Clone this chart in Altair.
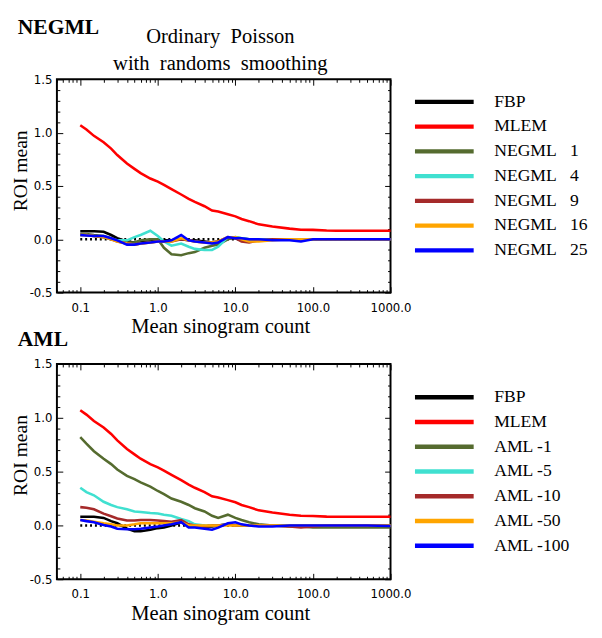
import altair as alt
import pandas as pd

# ---------------- data ----------------
counts = [0.1, 0.12, 0.15, 0.2, 0.25, 0.3, 0.4, 0.5, 0.6, 0.8, 1.0,
          1.2, 1.5, 2.0, 2.5, 3.0, 4.0, 5.0, 6.0, 8.0, 10.0,
          12.0, 15.0, 20.0, 30.0, 50.0, 70.0, 100.0, 150.0, 200.0, 300.0, 500.0, 1000.0]

mlem = [1.07, 1.03, 0.97, 0.91, 0.85, 0.79, 0.71, 0.66, 0.62, 0.57, 0.54,
        0.51, 0.47, 0.42, 0.38, 0.35, 0.31, 0.27, 0.26, 0.235, 0.215,
        0.19, 0.17, 0.14, 0.12, 0.10, 0.09, 0.088, 0.082, 0.08, 0.08, 0.08, 0.08]

# top panel (NEGML)
fbp_top = [0.075, 0.075, 0.075, 0.07, 0.04, 0.01, -0.02, -0.03, -0.02, -0.02, -0.01,
           -0.01, -0.01, 0.0, -0.01, -0.01, -0.02, -0.03, -0.02, 0.01, 0.01,
           0.0, -0.01, 0.0, 0.0, 0.0, 0.0, 0.0, 0.0, 0.0, 0.0, 0.0, 0.0]
negml_1 = [0.05, 0.05, 0.04, 0.03, 0.01, -0.01, -0.03, -0.03, -0.01, 0.0, 0.0,
           -0.08, -0.14, -0.15, -0.13, -0.12, -0.08, -0.06, -0.05, 0.0, 0.02,
           0.01, 0.0, 0.0, 0.0, 0.0, 0.0, 0.0, 0.0, 0.0, 0.0, 0.0, 0.0]
negml_4 = [0.04, 0.04, 0.03, 0.02, 0.0, -0.01, -0.01, 0.02, 0.04, 0.08, 0.03,
           -0.02, -0.06, -0.04, -0.07, -0.09, -0.10, -0.10, -0.07, 0.02, 0.02,
           0.01, 0.0, 0.0, 0.0, 0.0, 0.0, 0.0, 0.0, 0.0, 0.0, 0.0, 0.0]
negml_9 = [0.04, 0.04, 0.03, 0.02, 0.0, -0.02, -0.04, -0.05, -0.04, -0.03, -0.02,
           -0.02, -0.02, 0.0, -0.01, -0.02, -0.03, -0.03, -0.02, 0.02, 0.01,
           -0.02, -0.03, -0.01, 0.0, 0.0, 0.0, 0.0, 0.0, 0.0, 0.0, 0.0, 0.0]
negml_16 = [0.04, 0.04, 0.03, 0.02, 0.0, -0.02, -0.04, -0.05, -0.04, -0.03, -0.02,
            -0.02, -0.02, 0.01, -0.01, -0.02, -0.03, -0.03, -0.02, 0.02, 0.02,
            0.0, -0.02, -0.02, -0.01, 0.0, 0.0, 0.0, 0.0, 0.0, 0.0, 0.0, 0.0]
negml_25 = [0.04, 0.035, 0.03, 0.03, 0.01, -0.01, -0.05, -0.05, -0.04, -0.03, -0.02,
            -0.02, -0.01, 0.04, -0.01, -0.02, -0.03, -0.04, -0.03, 0.02, 0.01,
            0.01, 0.0, 0.0, -0.01, -0.01, -0.02, 0.0, 0.0, 0.0, 0.0, 0.0, 0.0]

# bottom panel (AML)
fbp_bot = [0.08, 0.08, 0.08, 0.07, 0.04, 0.02, -0.03, -0.055, -0.055, -0.04, -0.025,
           -0.02, 0.0, 0.03, 0.0, 0.0, -0.01, -0.01, 0.0, 0.01, 0.0,
           0.0, 0.0, 0.0, 0.0, 0.0, 0.0, 0.0, 0.0, 0.0, 0.0, 0.0, 0.0]
aml_1 = [0.82, 0.76, 0.69, 0.62, 0.57, 0.52, 0.46, 0.43, 0.40, 0.36, 0.32,
         0.29, 0.25, 0.22, 0.19, 0.16, 0.13, 0.09, 0.07, 0.10, 0.07,
         0.05, 0.03, 0.01, 0.0, -0.01, -0.01, -0.02, -0.02, -0.02, -0.02, -0.02, -0.02]
aml_5 = [0.35, 0.31, 0.28, 0.22, 0.19, 0.17, 0.15, 0.13, 0.125, 0.115, 0.11,
         0.10, 0.09, 0.06, 0.04, 0.01, 0.0, 0.0, 0.0, 0.01, 0.0,
         0.0, 0.0, 0.0, 0.0, 0.0, 0.0, 0.0, 0.0, 0.0, 0.0, 0.0, 0.0]
aml_10 = [0.17, 0.165, 0.15, 0.11, 0.085, 0.065, 0.045, 0.045, 0.05, 0.05, 0.045,
          0.04, 0.035, 0.05, 0.01, 0.0, -0.01, 0.0, 0.0, 0.01, 0.0,
          0.0, 0.0, 0.0, 0.0, -0.01, -0.02, -0.01, 0.0, 0.0, 0.0, 0.0, 0.0]
aml_50 = [0.05, 0.045, 0.035, 0.02, 0.01, 0.0, 0.0, 0.01, 0.02, 0.02, 0.02,
          0.02, 0.02, 0.03, 0.0, 0.0, 0.0, 0.0, 0.0, 0.0, 0.0,
          0.0, 0.0, 0.0, 0.0, 0.0, 0.0, 0.0, 0.0, 0.0, 0.0, 0.0, 0.0]
aml_100 = [0.05, 0.04, 0.03, 0.005, -0.01, -0.03, -0.035, -0.035, -0.03, -0.02, -0.01,
           0.0, 0.01, 0.03, -0.02, -0.02, -0.03, -0.04, -0.02, 0.02, 0.03,
           0.01, 0.0, -0.01, -0.01, 0.0, 0.0, 0.0, 0.0, 0.0, 0.0, 0.0, -0.005]

NB = "\u00a0"
names_top = ["FBP", "MLEM", "NEGML" + NB * 3 + "1", "NEGML" + NB * 3 + "4",
             "NEGML" + NB * 3 + "9", "NEGML" + NB * 3 + "16", "NEGML" + NB * 3 + "25"]
names_bot = ["FBP", "MLEM", "AML -1", "AML -5", "AML -10", "AML -50", "AML -100"]
colors = ["#000000", "#ff0000", "#556b2f", "#40e0d0", "#a52a2a", "#ffa500", "#0000ff"]

series_top = [fbp_top, mlem, negml_1, negml_4, negml_9, negml_16, negml_25]
series_bot = [fbp_bot, mlem, aml_1, aml_5, aml_10, aml_50, aml_100]

zero_counts = [0.1, 1000.0]
zero_vals = [0.0, 0.0]

x_major = [0.1, 1, 10, 100, 1000]
x_minor = [m * d for d in [0.01, 0.1, 1, 10, 100] for m in range(2, 10)]
x_minor = [v for v in x_minor if v >= 0.05]
y_major = [-0.5, 0.0, 0.5, 1.0, 1.5]
y_minor = [round(-0.5 + 0.1 * i, 2) for i in range(21) if i % 5 != 0]

# ---------------- layout ----------------
W = 341
SERIF = "Liberation Serif"
SANS = "DejaVu Sans"
XSCALE = alt.Scale(type="log", domain=[0.05, 1000])
YSCALE = alt.Scale(domain=[-0.5, 1.5])


def tick_axis(orient, values, size, offset):
    return alt.Axis(orient=orient, values=values, labels=False, ticks=True,
                    tickSize=size, tickWidth=1, tickColor="black",
                    domain=False, grid=False, title=None, offset=offset)


def panel(names, series, H, legend_y, header, subtitle_lines, header_y):
    rows = []
    for name, vals in zip(names, series):
        for c, v in zip(counts, vals):
            rows.append({"count": c, "roi": v, "series": name})
    df = pd.DataFrame(rows)
    zdf = pd.DataFrame({"count": zero_counts, "roi": zero_vals})

    zero = alt.Chart(zdf).mark_line(color="black", strokeWidth=2.5, strokeDash=[2, 3]).encode(
        x=alt.X("count:Q", scale=XSCALE, axis=None),
        y=alt.Y("roi:Q", scale=YSCALE, axis=None),
    )

    lines = alt.Chart(df).mark_line(strokeWidth=2.6).encode(
        x=alt.X("count:Q", scale=XSCALE, axis=None),
        y=alt.Y("roi:Q", scale=YSCALE, axis=None),
        color=alt.Color("series:N", sort=names,
                        scale=alt.Scale(domain=names, range=colors),
                        legend=alt.Legend(orient="none", legendX=387, legendY=legend_y,
                                          title=None, symbolType="M-5,0H5", symbolSize=144,
                                          symbolStrokeWidth=4.5, labelFont=SERIF,
                                          labelFontSize=18, labelColor="black",
                                          labelOffset=42, rowPadding=7.3, padding=0,
                                          labelLimit=300)),
    )

    x_lab = alt.Axis(orient="bottom", values=x_major, ticks=False, domain=False, grid=False,
                     labelExpr="format(datum.value, '.1f')", labelFont=SANS, labelFontSize=12,
                     labelColor="black", labelPadding=10, labelFlush=False, labelOverlap=False,
                     title="Mean sinogram count", titleFont=SERIF, titleFontSize=21,
                     titleFontWeight="normal", titleColor="black", titleX=167, titleY=41,
                     titleBaseline="alphabetic", titleAlign="center")
    y_lab = alt.Axis(orient="left", values=y_major, ticks=False, domain=False, grid=False,
                     labelExpr="datum.value < 0 ? '-' + format(-datum.value, '.1f') : format(datum.value, '.1f')",
                     labelFont=SANS, labelFontSize=12, labelColor="black", labelPadding=5,
                     labelFlush=False, labelOverlap=False,
                     title="ROI mean", titleFont=SERIF, titleFontSize=20, titleFontWeight="normal",
                     titleColor="black", titleAngle=270, titleX=-31, titleY=93,
                     titleAlign="center", titleBaseline="alphabetic")

    axis_pairs = [
        (x_lab, y_lab),
        (tick_axis("top", x_major, 6, -H), tick_axis("right", y_major, 6, -W)),
        (tick_axis("top", x_minor, 3, -H), tick_axis("right", y_minor, 3, -W)),
        (tick_axis("bottom", x_major, 6, -H), tick_axis("left", y_major, 6, -W)),
        (tick_axis("bottom", x_minor, 3, -H), tick_axis("left", y_minor, 3, -W)),
    ]
    axis_layers = [
        alt.Chart(zdf).mark_point(opacity=0).encode(
            x=alt.X("count:Q", scale=XSCALE, axis=ax),
            y=alt.Y("roi:Q", scale=YSCALE, axis=ay),
        )
        for ax, ay in axis_pairs
    ]

    texts = [
        alt.Chart(pd.DataFrame({"t": [header]})).mark_text(
            font=SERIF, fontSize=22, fontWeight="bold", align="left",
            baseline="alphabetic", color="black").encode(
            text="t:N", x=alt.value(-40), y=alt.value(header_y))
    ]
    sub_y = [-37, -10]
    for line, yy in zip(subtitle_lines, sub_y):
        texts.append(
            alt.Chart(pd.DataFrame({"t": [line]})).mark_text(
                font=SERIF, fontSize=21, align="center", baseline="alphabetic",
                color="black").encode(text="t:N", x=alt.value(167), y=alt.value(yy))
        )

    return alt.layer(zero, lines, *axis_layers, *texts).resolve_axis(
        x="independent", y="independent").properties(width=W, height=H)


top = panel(names_top, series_top, 218, 14, "NEGML",
            ["Ordinary" + NB * 2 + "Poisson", "with" + NB * 2 + "randoms" + NB * 2 + "smoothing"], -46)
bottom = panel(names_bot, series_bot, 220, 25, "AML", [], -18)

chart = alt.vconcat(top, bottom, spacing=73, bounds="flush").resolve_scale(
    color="independent").resolve_legend(color="independent").properties(
    padding={"left": 2, "top": 1, "right": 5, "bottom": 0},
    background="white",
).configure_view(stroke="black", strokeWidth=2)

chart.save("out.html", embed_options={"renderer": "svg", "actions": False})
